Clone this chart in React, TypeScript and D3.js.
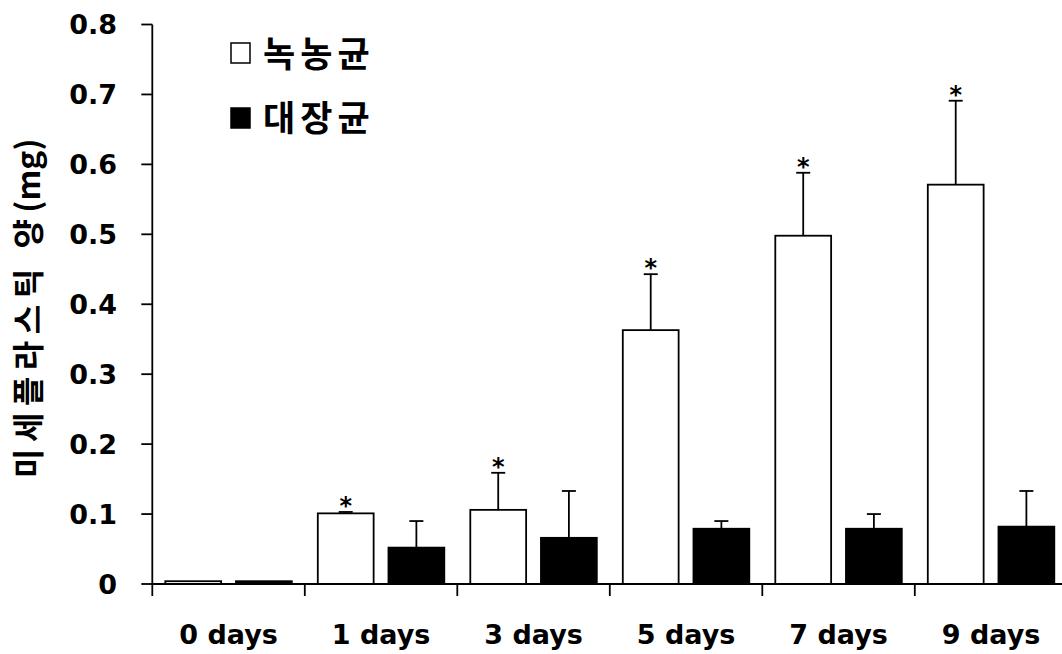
import React from "react";
import * as d3 from "d3";

const categories = ["0 days", "1 days", "3 days", "5 days", "7 days", "9 days"];
const seriesNames = ["녹농균", "대장균"];
const pseudomonas = [0.004, 0.101, 0.106, 0.363, 0.498, 0.571];
const pseudomonasErr = [0, 0.002, 0.053, 0.08, 0.09, 0.12];
const ecoli = [0.004, 0.052, 0.066, 0.079, 0.079, 0.082];
const ecoliErr = [0, 0.038, 0.067, 0.011, 0.021, 0.051];
const significant = [false, true, true, true, true, true];
const yTicks = [0, 0.1, 0.2, 0.3, 0.4, 0.5, 0.6, 0.7, 0.8];
const yTickLabels = ["0", "0.1", "0.2", "0.3", "0.4", "0.5", "0.6", "0.7", "0.8"];
const yTitleMain = "미세플라스틱 양";
const yTitleUnit = "(mg)";

const W = 1062;
const H = 654;
const LATIN = "'DejaVu Sans', 'Noto Sans', sans-serif";
const CJK = "'Noto Sans CJK KR', 'Noto Sans', sans-serif";

export default function App() {
  const x0 = 152.3;
  const step = 152.5;
  const x = d3.scaleBand<string>().domain(categories).range([x0, x0 + step * categories.length]).padding(0);
  const sub = d3.scaleBand<string>().domain(["a", "b"]).range([13, 139.5]).paddingInner(0.21).paddingOuter(0);
  const y = d3.scaleLinear().domain([0, 0.8]).range([584, 24.5]);
  const bw = sub.bandwidth();
  const capW = 14;

  const series = [
    { key: "a", vals: pseudomonas, errs: pseudomonasErr, fill: "#ffffff", star: significant },
    { key: "b", vals: ecoli, errs: ecoliErr, fill: "#000000", star: categories.map(() => false) },
  ];

  const boundaries = categories.map((c) => x(c)!).concat([x0 + step * categories.length]);

  return (
    <svg width={W} height={H} style={{ position: "absolute", left: 0, top: 0, background: "#fff" }}>
      <rect x={0} y={0} width={W} height={H} fill="#fff" />
      {/* bars */}
      {series.map((s) =>
        categories.map((c, i) => {
          const bx = x(c)! + sub(s.key)!;
          const top = y(s.vals[i]);
          const errTop = y(s.vals[i] + s.errs[i]);
          const cx = bx + bw / 2;
          return (
            <g key={s.key + c}>
              {s.errs[i] > 0 && (
                <g stroke="#000" strokeWidth={1.8}>
                  <line x1={cx} x2={cx} y1={top} y2={errTop} />
                  <line x1={cx - capW / 2} x2={cx + capW / 2} y1={errTop} y2={errTop} />
                </g>
              )}
              <rect x={bx} y={top} width={bw} height={y(0) - top} fill={s.fill} stroke="#000" strokeWidth={1.8} />
              {s.star[i] && (
                <text x={cx} y={errTop + 2} textAnchor="middle" fontSize={24} fontWeight="bold" fill="#000" fontFamily={LATIN}>
                  *
                </text>
              )}
            </g>
          );
        })
      )}
      {/* y axis */}
      <line x1={x0} x2={x0} y1={y(0.8)} y2={y(0)} stroke="#000" strokeWidth={1.8} />
      {yTicks.map((t, i) => (
        <g key={t}>
          <line x1={x0 - 11} x2={x0} y1={y(t)} y2={y(t)} stroke="#000" strokeWidth={1.8} />
          <text x={117} y={y(t)} dy="0.36em" textAnchor="end" fontSize={27} fontWeight="bold" fill="#000" fontFamily={LATIN}>
            {yTickLabels[i]}
          </text>
        </g>
      ))}
      {/* x axis */}
      <line x1={x0} x2={x0 + step * categories.length} y1={y(0)} y2={y(0)} stroke="#000" strokeWidth={1.8} />
      {boundaries.map((b, i) => (
        <line key={i} x1={b} x2={b} y1={y(0)} y2={y(0) + 12} stroke="#000" strokeWidth={1.8} />
      ))}
      {categories.map((c) => (
        <text key={c} x={x(c)! + step / 2} y={644} textAnchor="middle" fontSize={27} fontWeight="bold" fill="#000" fontFamily={LATIN}>
          {c}
        </text>
      ))}
      {/* y title */}
      <text
        transform={`translate(40, 478) rotate(-90)`}
        textAnchor="start"
        fontSize={32}
        fontWeight="bold"
        fill="#000"
        fontFamily={CJK}
      >
        <tspan letterSpacing={6.5}>{yTitleMain}</tspan>
        <tspan letterSpacing={0}>{yTitleUnit}</tspan>
      </text>
      {/* legend */}
      <rect x={231} y={43} width={19} height={20} fill="#fff" stroke="#000" strokeWidth={1.5} />
      <text x={263} y={54} dy="0.36em" fontSize={35} fontWeight="bold" fill="#000" fontFamily={CJK} letterSpacing={5}>
        {seriesNames[0]}
      </text>
      <rect x={231} y={108} width={19} height={20} fill="#000" stroke="#000" strokeWidth={1.5} />
      <text x={263} y={118} dy="0.36em" fontSize={35} fontWeight="bold" fill="#000" fontFamily={CJK} letterSpacing={5}>
        {seriesNames[1]}
      </text>
    </svg>
  );
}
